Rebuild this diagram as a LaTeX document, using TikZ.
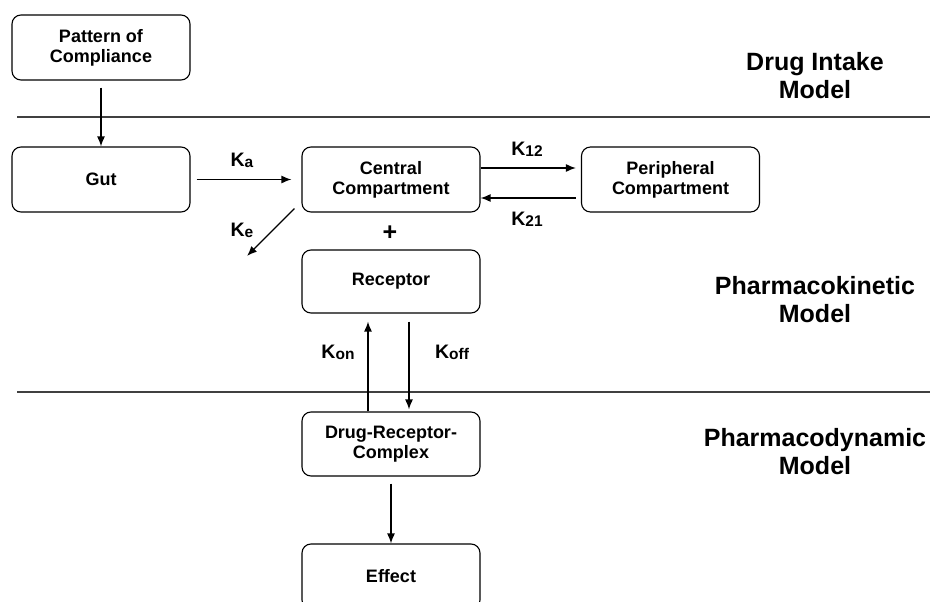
\documentclass[tikz,border=0pt]{standalone}
\usepackage{fontspec}
\setmainfont{Liberation Sans}
\usepackage{tikz}
\usetikzlibrary{arrows.meta}
\tikzset{
    model-box/.style = {draw, line width=1.1pt, rounded corners=9pt, minimum width=178pt, minimum height=65pt, align=center, inner sep=2pt, font=\fontsize{18}{20}\selectfont\bfseries},
    model-title/.style = {align=center, font=\fontsize{25}{28}\selectfont\bfseries},
    rate-label/.style = {font=\fontsize{19.5}{20}\selectfont\bfseries},
    flow/.style = {-{Latex[length=10pt,width=8pt]}, line width=1.4pt},
    divider/.style = {draw=black!75, line width=1.5pt},
}
\newcommand{\rateK}[1]{K\raisebox{-1pt}{\fontsize{15.5}{16}\selectfont #1}}

\begin{document}
\begin{tikzpicture}[x=1pt, y=-1pt]
\clip (0,0) rectangle (930,602);
\useasboundingbox (0,0) rectangle (930,602);

\node [model-box] (compliance) at (101,47.5) {Pattern of\\Compliance};
\node [model-box] (gut) at (101,179.5) {Gut};
\node [model-box] (central) at (391,179.5) {Central\\Compartment};
\node [model-box] (peripheral) at (670.5,179.5) {Peripheral\\Compartment};
\node [model-box, minimum height=63pt] (receptor) at (391,281.5) {Receptor};
\node [model-box, minimum height=64pt] (drc) at (391,444) {Drug-Receptor-\\Complex};
\node [model-box] (effect) at (391,576.5) {Effect};

\node [model-title] (intake) at (815,76) {Drug Intake\\Model};
\node [model-title] (kinetic) at (815,300) {Pharmacokinetic\\Model};
\node [model-title] (dynamic) at (815,452) {Pharmacodynamic\\Model};

\coordinate (line1-start) at (17,117);
\coordinate (line1-end) at (930,117);
\coordinate (line2-start) at (17,392);
\coordinate (line2-end) at (930,392);
\draw [divider] (line1-start) -- (line1-end);
\draw [divider] (line2-start) -- (line2-end);

\draw [flow, shorten <=7pt] (compliance) -- (gut);
\draw [flow, shorten <=6pt, shorten >=10pt] (gut) -- (central);
\node [rate-label] (ka) at (242,160) {\rateK{a}};

\draw [flow, shorten >=5pt] ([yshift=11.5pt]central.east) -- ([yshift=11.5pt]peripheral.west);
\draw [flow, shorten <=5pt] ([yshift=-18.5pt]peripheral.west) -- ([yshift=-18.5pt]central.east);
\node [rate-label] (k12) at (527,149) {\rateK{12}};
\node [rate-label] (k21) at (527,219) {\rateK{21}};

\coordinate (elim) at (247,256);
\draw [flow] ([shift={(-7pt,4pt)}]central.south west) -- (elim);
\node [rate-label] (ke) at (242,230) {\rateK{e}};

\node [font=\fontsize{25}{25}\selectfont\bfseries] (plus) at (390,233) {+};

\draw [flow] ([xshift=-23pt]drc.north) -- ([xshift=-23pt,yshift=-8pt]receptor.south);
\draw [flow] ([xshift=18pt,yshift=-8pt]receptor.south) -- ([xshift=18pt,yshift=2pt]drc.north);
\node [rate-label] (kon) at (338,352) {\rateK{on}};
\node [rate-label] (koff) at (452,352) {\rateK{off}};

\draw [flow, shorten <=7pt] (drc) -- (effect);
\end{tikzpicture}
\end{document}
